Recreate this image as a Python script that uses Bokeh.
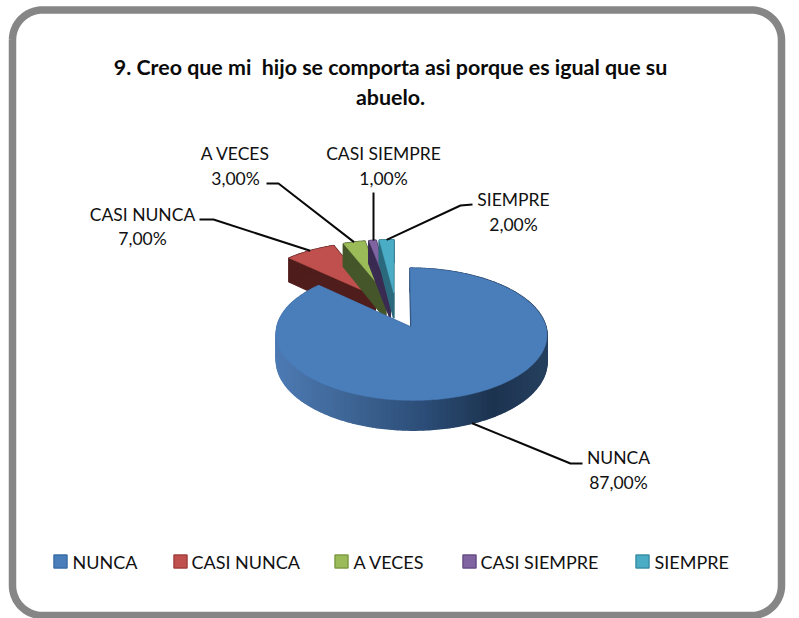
import numpy as np
from bokeh.plotting import figure
from bokeh.models import Range1d
from bokeh.core.properties import value
from bokeh.embed import file_html
from bokeh.resources import INLINE

TITLE_LINES = ["9. Creo que mi\u00a0 hijo se comporta asi porque es igual que su", "abuelo."]
CATEGORIES = ["NUNCA", "CASI NUNCA", "A VECES", "CASI SIEMPRE", "SIEMPRE"]
PERCENTS = [87, 7, 3, 1, 2]
PERCENT_LABELS = ["87,00%", "7,00%", "3,00%", "1,00%", "2,00%"]

W, H = 799, 618
TOP = ["#4a7ebb", "#c0504d", "#9bbb59", "#8064a2", "#4bacc6"]
SIDE = [None, "#4f1d1b", "#45562a", "#3a2b52", "#2a6a7c"]
FONT = value("Lato")

p = figure(width=W, height=H, x_range=Range1d(0, W), y_range=Range1d(H, 0),
           output_backend="svg", toolbar_location=None, min_border=0,
           outline_line_color=None, background_fill_color="white",
           border_fill_color="white", x_axis_type=None, y_axis_type=None)
p.xgrid.visible = False
p.ygrid.visible = False
p.margin = (0, 0, 0, 0)

# Rounded outer frame
x0, x1, y0, y1, r = 12, 781, 9.5, 615, 30
a = np.linspace(0, np.pi / 2, 24)
fx = np.concatenate([x0 + r - r * np.cos(a), x1 - r + r * np.sin(a), x1 - r + r * np.cos(a), x0 + r - r * np.sin(a)])
fy = np.concatenate([y0 + r - r * np.sin(a), y0 + r - r * np.cos(a), y1 - r + r * np.sin(a), y1 - r + r * np.cos(a)])
p.line(np.r_[fx, fx[0]], np.r_[fy, fy[0]], line_color="#868686", line_width=7.5)

# 3D pie projection
CX, CY, SX, SY, PERSP, EXPLODE, DEPTH = 395.5, 310.0, 131.0, 62.0, 0.1, 0.29, 26.0


def project(wx, wy, down=0.0):
    s = 1 / (1 + PERSP * wy)
    return CX + SX * wx * s, CY - SY * wy * s + down * DEPTH * s


def rim(t_deg, mid_deg, radius=1.0):
    t, m = np.radians(t_deg), np.radians(mid_deg)
    return EXPLODE * np.sin(m) + radius * np.sin(t), EXPLODE * np.cos(m) + radius * np.cos(t)


def lerp_hex(stops, u):
    xs = [s[0] for s in stops]
    rgb = [np.interp(u, xs, [int(s[1][i:i + 2], 16) for s in stops]) for i in (1, 3, 5)]
    return "#%02x%02x%02x" % tuple(int(round(v)) for v in rgb)


edges = np.cumsum([0] + PERCENTS) * 3.6
mids = (edges[:-1] + edges[1:]) / 2
BLUE_SIDE = [(0.0, "#4d7ab3"), (0.25, "#3f6797"), (0.55, "#2c4d77"), (0.8, "#1d3450"), (1.0, "#26405f")]

# far small slices first, largest slice on top of them
for i in [1, 2, 3, 4, 0]:
    ts = np.arange(edges[i], edges[i + 1] + 0.01, 1.0)
    ts = np.unique(np.r_[ts, edges[i + 1]])
    wx, wy = rim(ts, mids[i])
    ax, ay = rim(0, mids[i], 0.0)
    wx, wy = np.r_[ax, wx], np.r_[ay, wy]
    n = len(wx)
    qx, qy, qc = [], [], []
    for j in range(n):
        k = (j + 1) % n
        a1, b1 = project(wx[j], wy[j])
        a2, b2 = project(wx[k], wy[k])
        a3, b3 = project(wx[k], wy[k], 1)
        a4, b4 = project(wx[j], wy[j], 1)
        qx.append([a1, a2, a3, a4])
        qy.append([b1, b2, b3, b4])
        if SIDE[i]:
            qc.append(SIDE[i])
        else:
            qc.append(lerp_hex(BLUE_SIDE, (a1 - 277) / 270))
    p.patches(qx, qy, fill_color=qc, line_color=qc, line_width=1.5)
    tx, ty = project(wx, wy)
    p.patch(tx, ty, fill_color=TOP[i], line_color=TOP[i], line_width=0.5)

# Leader lines: label end / elbow typed as layout, slice end from the pie geometry
ELBOWS = [[(582, 463), (570, 463)], [(199, 219), (213, 219)], [(266, 183), (278, 183)],
          [(373, 192)], [(472, 204), (460, 205)]]
for i, el in enumerate(ELBOWS):
    wx, wy = rim(mids[i], mids[i])
    ex, ey = project(wx, wy, 1 if i == 0 else 0)
    if i == 3:
        ex = el[0][0]
    p.line([q[0] for q in el] + [ex], [q[1] for q in el] + [ey], line_color="#0a0a0a", line_width=2)

# Data labels
LABEL_POS = [(618, 457, 482), (142, 214, 238), (235, 153, 178), (383, 153, 178), (513, 199, 224)]
for i, (lx, ly1, ly2) in enumerate(LABEL_POS):
    p.text([lx, lx], [ly1, ly2], text=[CATEGORIES[i], PERCENT_LABELS[i]], text_font=FONT,
           text_font_size="17.5px", text_color="#111111", text_align="center", text_baseline="middle")

# Title
p.text([390, 390], [66, 96], text=TITLE_LINES, text_font=FONT, text_font_size="21.4px",
       text_font_style="bold", text_color="#0a0a0a", text_align="center", text_baseline="middle")

# Legend
SWATCH_X = [60, 180, 341, 469, 642]
TEXT_X = [72, 191, 353, 480, 654]
BORDER = ["#3a6ea5", "#a03f3c", "#7f9c45", "#664e85", "#3a8ea5"]
p.rect(SWATCH_X, [561] * 5, width=13, height=13, fill_color=TOP, line_color=BORDER, line_width=1.5)
p.text(TEXT_X, [561] * 5, text=CATEGORIES, text_font=FONT, text_font_size="18px",
       text_color="#111111", text_align="left", text_baseline="middle")

open("out.html", "w").write(file_html(p, INLINE))
